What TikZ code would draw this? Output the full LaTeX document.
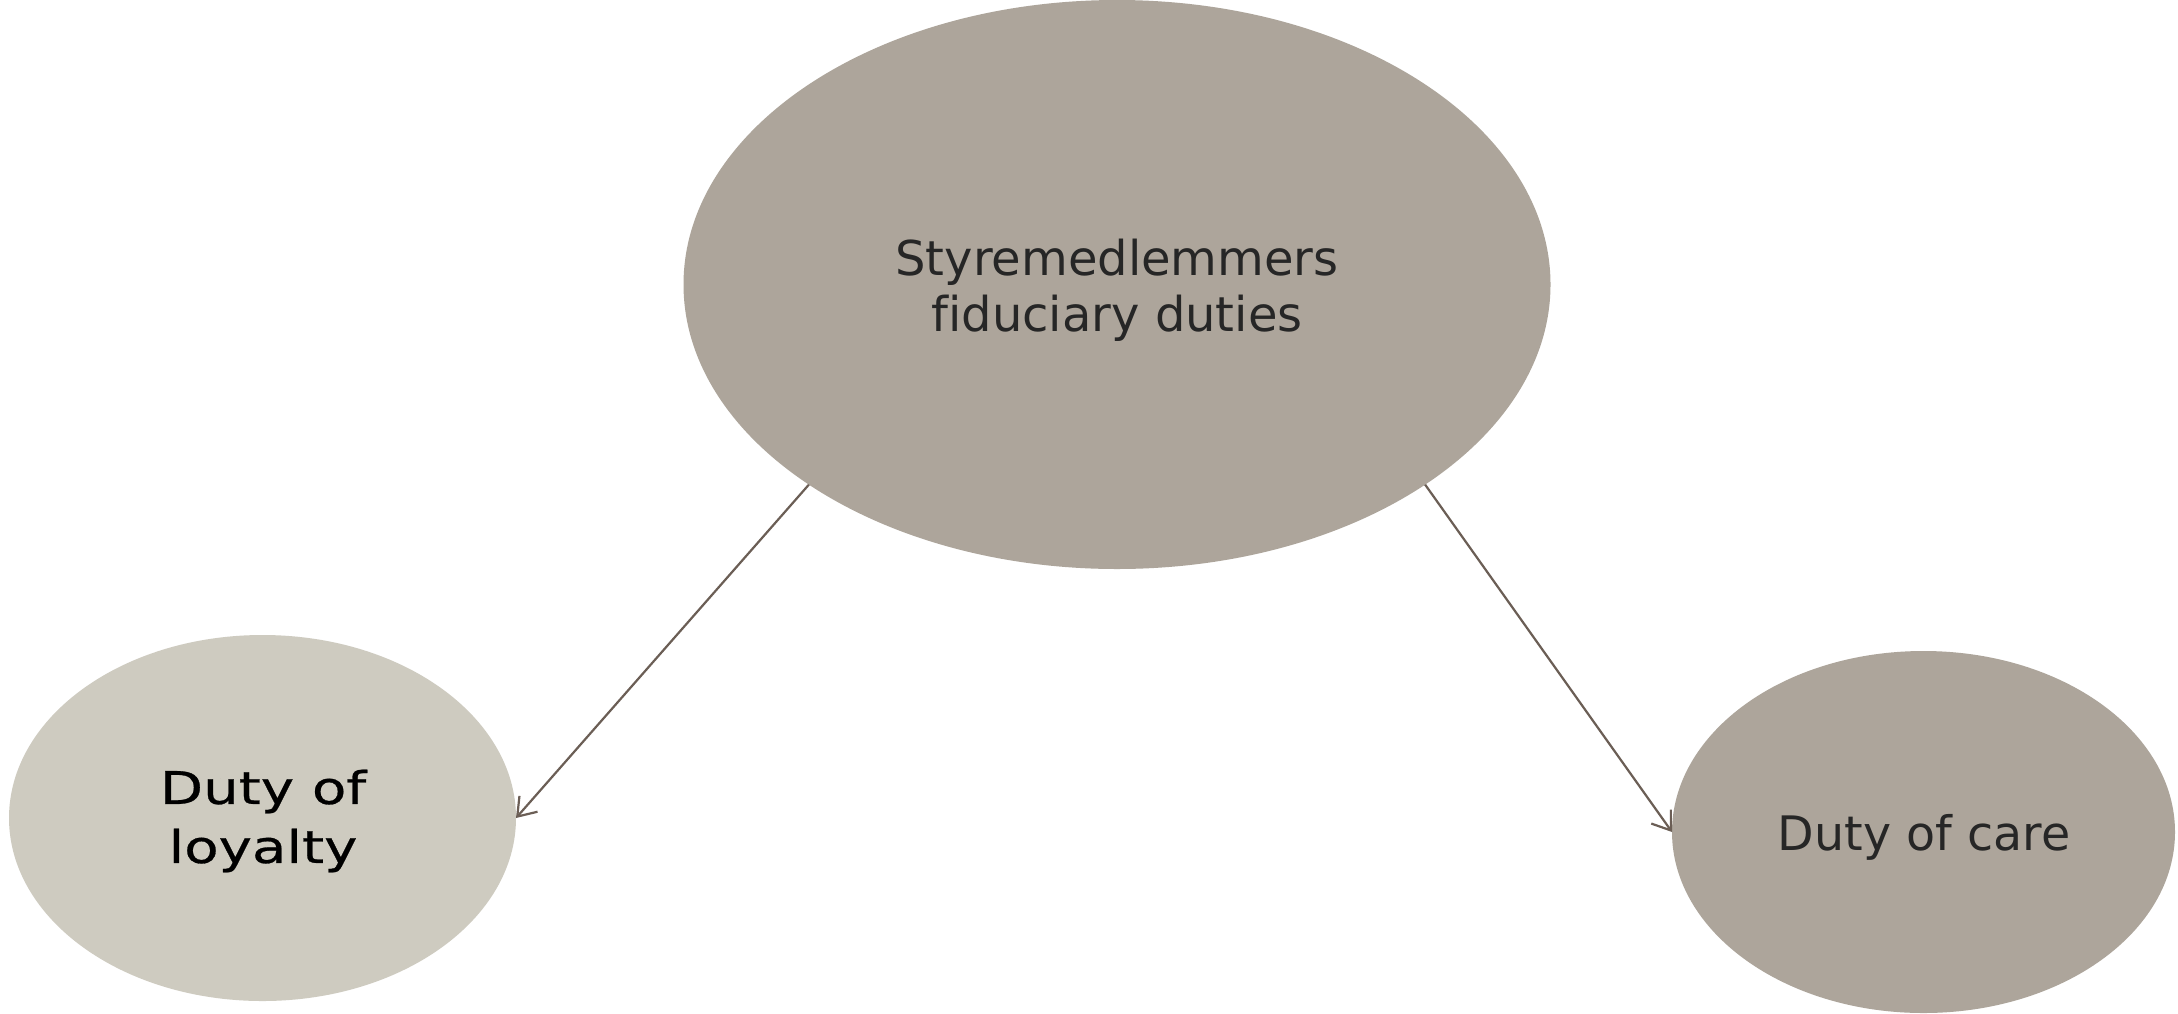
\documentclass[tikz,border=0pt]{standalone}
\usepackage{fontspec}
\setmainfont[Ligatures=NoCommon]{DejaVu Sans}
\newfontfamily\widefont[Ligatures=NoCommon,FakeStretch=1.25,FakeBold=0.6]{DejaVu Sans}
\usetikzlibrary{shapes.geometric,arrows.meta}
\definecolor{taupe}{HTML}{ADA59B}
\definecolor{lighttaupe}{HTML}{CECBC0}
\definecolor{arrowc}{HTML}{6B5E55}
\definecolor{txtc}{HTML}{262626}
\begin{document}
\begin{tikzpicture}[x=1pt,y=-1pt,
  blob/.style={ellipse,draw=none,inner sep=0pt,outer sep=0pt},
  txt/.style={inner sep=0pt,align=center,text=txtc},
  arr/.style={draw=arrowc,line width=2.2pt,-{Straight Barb[length=17pt,width=24pt,line width=2.2pt]}}]
\useasboundingbox[fill=white] (0,0) rectangle (2178,1013);
\node[blob,fill=taupe,minimum width=867pt,minimum height=569pt] (top) at (1117,284.5) {};
\node[blob,fill=lighttaupe,minimum width=507pt,minimum height=366pt] (left) at (262.5,818) {};
\node[blob,fill=taupe,minimum width=503pt,minimum height=362pt] (right) at (1923.5,832) {};
\node[txt,font=\fontsize{48}{56}\selectfont] (toptext) at (1117,290) {Styremedlemmers\\fiduciary duties};
\node[txt,text=black,font=\widefont\fontsize{45}{59}\selectfont] (lefttext) at (263,821) {Duty of\\loyalty};
\node[txt,font=\fontsize{47.5}{57}\selectfont] (righttext) at (1924,837.5) {Duty of care};
\draw[arr] (top.213) -- (left.east);
\draw[arr] (top.327) -- (right.west);
\end{tikzpicture}
\end{document}
